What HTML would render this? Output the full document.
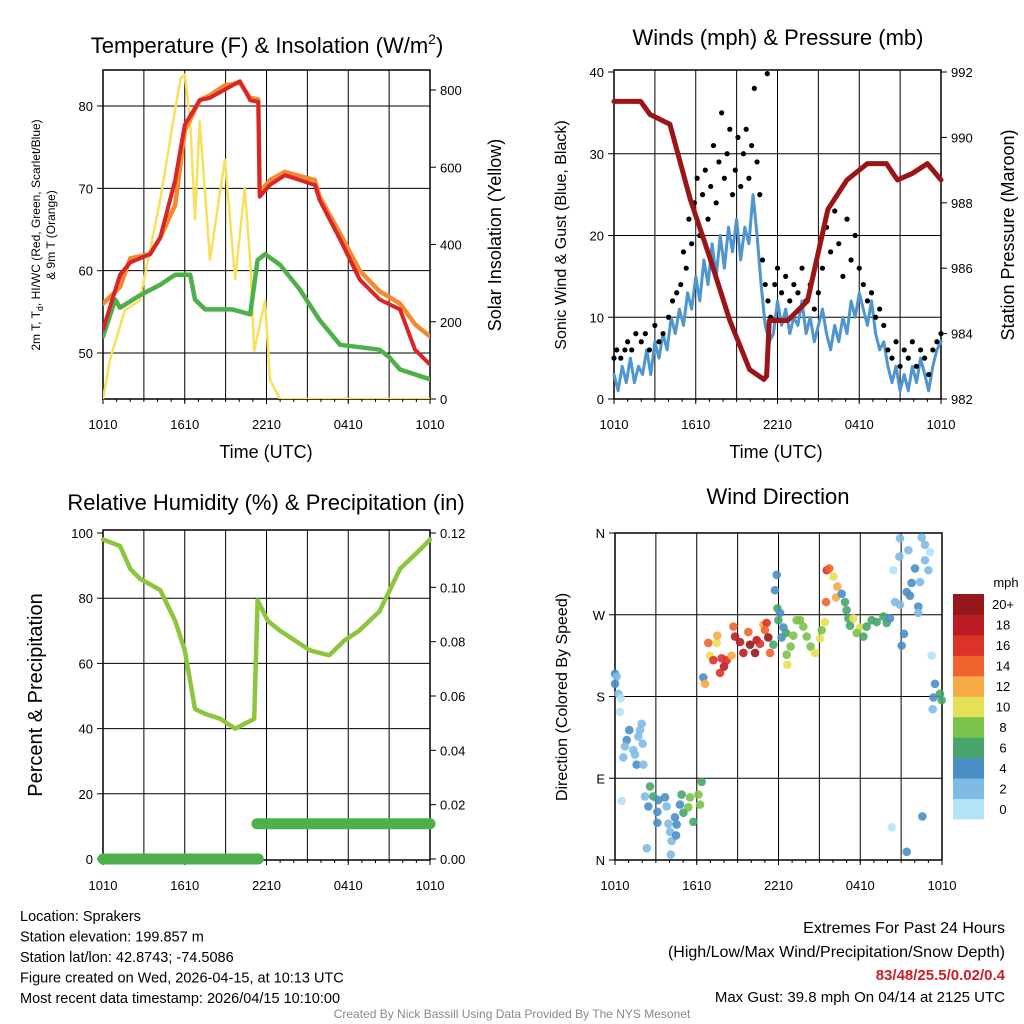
<!DOCTYPE html>
<html><head><meta charset="utf-8"><style>
html,body{margin:0;padding:0;background:#fff;}
svg{display:block;font-family:"Liberation Sans",sans-serif;}
</style></head><body>
<svg id="c" width="1024" height="1024" viewBox="0 0 1024 1024" xmlns="http://www.w3.org/2000/svg"></svg>
<script>
// ---------- DATA ----------
const xTickLabels = ["1010","1610","2210","0410","1010"];
// Panel 1: temperature (hours since 1010 UTC)
const tempRedT = [0,1.25,2,3.45,4.2,5.3,6,7.1,7.85,8.95,10.05,10.8,11.4,11.5,12.25,13.35,14.45,15.55,15.9,17.4,18.85,20.3,21.8,22.9,24];
const tempRedV = [52.8,59.5,61,62,64,71,77.7,80.7,81,82,83,80.7,80.5,69,70.4,71.6,71,70.4,68.6,63.8,58.9,56.5,55.3,50.4,48.6];
const tempOrgT = [0,1.25,2,3.45,4.2,5.3,6,7.1,7.85,8.95,10.05,10.8,11.4,11.5,12.25,13.35,14.45,15.55,15.9,17.4,18.85,20.3,21.8,22.9,24];
const tempOrgV = [56,58,61.5,62,64,68,77,80.7,81.3,82.5,82.8,81,80.8,69.5,71,72,71.5,71,69,64.5,60,57.5,56,53.5,52];
const dewT = [0,0.9,1.25,2.7,4.2,5.3,6.4,6.75,7.5,9.5,10.8,11.35,11.9,13,14.45,15.9,17.4,18.85,20.3,21,21.8,24];
const dewV = [52,56.5,55.5,57,58.3,59.5,59.5,56.5,55.3,55.3,54.7,61.3,62,60.7,57.7,54,51,50.7,50.4,49.5,48,46.8];
const solarT = [0,0.5,1.6,2.7,4.2,5.3,5.7,6,6.4,6.75,7.1,7.85,8.95,9.7,10.4,10.8,11.1,11.9,12.25,13,24];
const solarV = [0,100,230,255,515,750,830,840,720,465,720,360,620,310,545,360,125,255,50,0,0];
// Panel 2: winds & pressure
const sonicT = [0,0.3,0.6,0.9,1.2,1.5,1.8,2.1,2.4,2.7,3,3.3,3.6,3.9,4.2,4.5,4.8,5.1,5.4,5.7,6,6.3,6.6,6.9,7.2,7.5,7.8,8.1,8.4,8.7,9,9.3,9.6,9.9,10.2,10.5,10.8,11.1,11.4,11.7,12,12.3,12.6,12.9,13.2,13.5,13.8,14.1,14.4,14.7,15,15.3,15.6,15.9,16.2,16.5,16.8,17.1,17.4,17.7,18,18.3,18.6,18.9,19.2,19.5,19.8,20.1,20.4,20.7,21,21.3,21.6,21.9,22.2,22.5,22.8,23.1,23.4,23.7,24];
const sonicV = [3,1,4,2,5,2,4,3,6,3,7,5,8,6,10,8,11,9,13,11,15,12,17,14,19,15,20,16,21,18,22,17,21,19,25,20,14,9,7,8,12,9,11,8,10,9,12,8,10,7,9,11,8,6,9,7,10,8,12,10,13,11,9,12,8,6,7,4,2,4,1,3,1,4,2,5,3,1,4,6,7];
const gustT = [0,0.2,0.5,0.8,1,1.3,1.6,2,2.3,2.6,3,3.3,3.6,4,4.3,4.6,4.9,5.1,5.3,5.5,5.7,5.9,6.1,6.3,6.5,6.7,6.9,7.1,7.3,7.5,7.7,7.9,8.1,8.3,8.5,8.7,8.9,9.1,9.3,9.5,9.7,9.9,10.1,10.3,10.5,10.7,10.9,11.1,11.25,11.3,11.5,11.8,12,12.3,12.6,12.9,13.2,13.5,13.8,14.1,14.4,14.7,15,15.3,15.6,15.9,16.2,16.5,16.8,17.1,17.4,17.7,18,18.3,18.6,18.9,19.2,19.5,19.8,20.1,20.4,20.7,21,21.3,21.6,21.9,22.2,22.5,22.8,23.1,23.4,23.7,24];
const gustV = [5,6,5,6,7,6,8,7,8,6,9,7,8,10,12,13,14,18,16,22,19,24,27,20,25,28,22,26,31,24,29,35,27,30,33,25,28,32,26,30,33,27,31,38,29,25,17,14,39.8,12,10,14,16,13,15,12,14,13,16,12,14,11,13,16,21,18,23,19,15,22,17,20,16,14,12,13,10,11,9,6,5,7,4,6,5,7,4,6,5,3,6,7,8];
const presT = [0,1.95,2.65,4.1,5.6,7.05,8.5,9.95,11.0,11.2,11.4,12.75,14.2,15.7,17.1,18.6,20.0,20.8,21.9,23.0,24];
const presV = [991.1,991.1,990.7,990.4,988.1,986.3,984.4,982.9,982.6,982.7,984.4,984.4,985.0,987.8,988.7,989.2,989.2,988.7,988.9,989.2,988.7];
// Panel 3: RH & precip
const rhT = [0,1.25,2,2.7,4.2,5.3,6,6.75,7.5,8.6,9.7,10.4,11.1,11.35,12.1,13,14.1,15.2,16.6,17.7,18.8,20.3,21.8,23.3,24];
const rhV = [98,96,89,86,82.5,73,64,46,44.5,43,40,41.5,43,79.4,73,70,67,64,62.5,67,70,76,89,95,98];
const precipT1 = [0,11.4];
const precipV1 = [0,0];
const precipT2 = [11.3,24];
const precipV2 = [0.013,0.013];
// Panel 4: wind direction scatter
const dirT = [0,0.12,0,0.25,0.42,0.37,1.05,0.86,0.73,1.35,1.84,1.96,1.71,2.03,1.47,0.61,1.59,2.08,0.49,2.57,2.2,2.45,2.81,3.18,3.67,3.11,3.79,3.11,3.92,4.53,4.4,4.04,4.16,4.48,2.33,4.09,4.89,5.51,6.12,5.38,5.02,5.75,6.24,6.36,4.77,6.48,6.61,6.85,7.46,7.51,6.97,7.22,7.83,8.2,7.71,8.0,8.56,8.69,8.81,9.18,9.42,9.79,9.91,10.28,10.4,10.64,10.89,11.13,11.01,11.25,11.38,11.62,11.87,11.74,11.92,12.11,11.99,12.36,12.23,12.55,13.09,12.65,12.6,12.89,13.33,13.58,13.82,14.07,14.36,14.68,15.05,15.17,15.41,15.54,15.73,16.03,16.32,16.22,15.49,16.64,16.88,17.0,17.13,17.25,17.49,17.98,17.74,18.23,18.47,18.84,19.21,19.7,19.94,20.18,20.43,20.55,20.92,20.87,20.92,21.53,22.02,21.77,21.41,21.65,22.39,22.75,22.51,22.75,23.12,23.0,22.26,22.26,21.21,21.04,23.24,23.49,23.85,23.98,23.37,23.32,20.31,22.56,21.41];
const dirD = [205,202,194,183,178,163,143,132,125,121,143,150,136,128,116,113,105,105,65,81,70,59,70,66,69,53,59,41,40,39,47,31,21,27,13,6,72,69,72,58,52,42,61,86,61,201,194,239,239,247,225,220,222,220,206,213,225,257,246,240,228,251,237,228,242,238,259,261,253,245,228,237,314,297,277,272,264,256,245,250,247,215,226,235,264,264,257,246,235,228,244,253,262,319,321,312,301,289,284,293,284,275,266,258,266,256,250,246,257,264,262,268,261,266,319,284,281,334,354,341,321,305,295,291,306,330,355,347,339,319,279,272,249,236,225,194,183,176,179,166,36,48,9];
const dirS = [4,2,4,2,0,0,4,4,2,2,2,2,2,2,2,2,4,2,0,6,2,4,6,4,4,4,2,4,2,4,4,2,2,4,2,2,6,8,8,8,6,6,8,6,4,4,12,14,10,12,10,16,16,16,16,18,12,14,18,18,18,14,20,20,18,16,12,16,14,20,14,6,4,4,6,4,6,4,4,6,8,10,8,8,8,8,8,8,8,10,10,8,10,16,14,10,12,12,14,4,6,6,6,6,10,10,8,6,6,6,6,6,6,4,0,2,2,2,2,2,4,4,4,4,2,2,2,2,0,2,4,2,4,4,0,4,6,6,4,2,0,4,4];
const speedBins = ["0","2","4","6","8","10","12","14","16","18","20+"];
const speedColors = ["#b5e3f6","#7fbbe4","#4a8fc6","#47a56c","#7bc24a","#e5e057","#f6aa46","#ef632d","#dc3328","#bb1c24","#951719"];

// ---------- RENDER ----------
const svg = document.getElementById('c');
const NS = "http://www.w3.org/2000/svg";
function mk(tag, attrs, parent){const e=document.createElementNS(NS,tag);for(const k in attrs)e.setAttribute(k,attrs[k]);(parent||svg).appendChild(e);return e;}
function txt(x,y,s,size,anchor,parent,extra){const e=mk('text',Object.assign({x:x,y:y,'font-size':size,'text-anchor':anchor||'middle',fill:'#000'},extra||{}),parent);e.textContent=s;return e;}
function lin(d0,d1,r0,r1){return v=>r0+(v-d0)/(d1-d0)*(r1-r0);}

function frame(p,name){
  const g=mk('g',{});
  
  
  for(let h=3;h<24;h+=3){const x=p.xs(h);const l=mk('line',{x1:x,y1:p.y0,x2:x,y2:p.y1,stroke:'#000','stroke-width':1},g);}
  const r=mk('rect',{x:p.x0,y:p.y0,width:p.x1-p.x0,height:p.y1-p.y0,fill:'none',stroke:'#000','stroke-width':1.5},g);
  
  for(let i=0;i<5;i++){const x=p.xs(i*6);const t=txt(x,p.y1+30,xTickLabels[i],13,'middle',g);
    mk('line',{x1:x,y1:p.y1,x2:x,y2:p.y1+5,stroke:'#000','stroke-width':1},g);}
  for(let h=1;h<24;h++){const x=p.xs(h);mk('line',{x1:x,y1:p.y1,x2:x,y2:p.y1+3,stroke:'#000','stroke-width':1},g);}
  return g;
}
function hgrid(p,vals,ys){for(const v of vals){const y=ys(v);const l=mk('line',{x1:p.x0,y1:y,x2:p.x1,y2:y,stroke:'#000','stroke-width':1});}}
function ticksL(p,vals,ys,labels,name){for(let i=0;i<vals.length;i++){const y=ys(vals[i]);mk('line',{x1:p.x0-6,y1:y,x2:p.x0,y2:y,stroke:'#000'});const t=txt(p.x0-10,y+5,labels[i],13,'end');}}
function ticksR(p,vals,ys,labels,name){for(let i=0;i<vals.length;i++){const y=ys(vals[i]);mk('line',{x1:p.x1,y1:y,x2:p.x1+6,y2:y,stroke:'#000'});const t=txt(p.x1+10,y+5,labels[i],13,'start');}}
function path(T,V,xs,ys,color,w,name,cap,parent){let d='';for(let i=0;i<T.length;i++)d+=(i?'L':'M')+xs(T[i]).toFixed(1)+','+ys(V[i]).toFixed(1);const e=mk('path',{d:d,fill:'none',stroke:color,'stroke-width':w,'stroke-linejoin':'round','stroke-linecap':cap||'round'},parent);return e;}

// Panel 1
const P1={x0:103,x1:430,y0:70,y1:399};P1.xs=lin(0,24,P1.x0,P1.x1);
const y1L=lin(50,80,353,106), y1R=lin(0,800,399,90);
frame(P1,'temperature-panel');
hgrid(P1,[50,60,70,80],y1L);
ticksL(P1,[50,60,70,80],y1L,["50","60","70","80"],'temp-y-tick');
ticksR(P1,[0,200,400,600,800],y1R,["0","200","400","600","800"],'solar-y-tick');
let c1=mk('clipPath',{id:'c1'});mk('rect',{x:P1.x0,y:P1.y0,width:P1.x1-P1.x0,height:P1.y1-P1.y0},c1);
const g1=mk('g',{'clip-path':'url(#c1)'});
path(solarT,solarV,P1.xs,y1R,'#f7e05a',2.5,'solar-insolation-line','round',g1);
path(dewT,dewV,P1.xs,y1L,'#4db04a',4.5,'dewpoint-line','round',g1);
path(tempOrgT,tempOrgV,P1.xs,y1L,'#f28a30',4.5,'temp-9m-line','round',g1);
path(tempRedT,tempRedV,P1.xs,y1L,'#d92525',4,'temp-2m-line','round',g1);
let t=txt(267,53,'',22);
t.innerHTML='Temperature (F) &amp; Insolation (W/m<tspan font-size="14" dy="-9">2</tspan><tspan dy="9">)</tspan>';
t=txt(266,458,'Time (UTC)',18);
t=txt(0,0,'',12,'middle',null,{transform:'translate(40,235) rotate(-90)'});
t.innerHTML='2m T, T<tspan font-size="9" dy="3">d</tspan><tspan dy="-3">, HI/WC (Red, Green, Scarlet/Blue)</tspan>';
t=txt(0,0,'& 9m T (Orange)',12,'middle',null,{transform:'translate(55,235) rotate(-90)'});
t=txt(0,0,'Solar Insolation (Yellow)',18,'middle',null,{transform:'translate(501,235) rotate(-90)'});

// Panel 2
const P2={x0:614,x1:941,y0:70,y1:399};P2.xs=lin(0,24,P2.x0,P2.x1);
const y2L=lin(0,40,399,72), y2R=lin(982,992,399,72);
frame(P2,'winds-panel');
hgrid(P2,[10,20,30],y2L);
ticksL(P2,[0,10,20,30,40],y2L,["0","10","20","30","40"],'wind-y-tick');
ticksR(P2,[982,984,986,988,990,992],y2R,["982","984","986","988","990","992"],'pressure-y-tick');
path(sonicT,sonicV,P2.xs,y2L,'#4f95d0',3,'sonic-wind-line');
for(let i=0;i<gustT.length;i++){const c=mk('circle',{cx:P2.xs(gustT[i]),cy:y2L(gustV[i]),r:2.6,fill:'#000'});}
path(presT,presV,P2.xs,y2R,'#9b1516',5,'pressure-line');
t=txt(778,45,'Winds (mph) & Pressure (mb)',22);
t=txt(776,458,'Time (UTC)',18);
t=txt(0,0,'Sonic Wind & Gust (Blue, Black)',16,'middle',null,{transform:'translate(566,235) rotate(-90)'});
t=txt(0,0,'Station Pressure (Maroon)',18,'middle',null,{transform:'translate(1014,235) rotate(-90)'});

// Panel 3
const P3={x0:103,x1:430,y0:530,y1:860};P3.xs=lin(0,24,P3.x0,P3.x1);
const y3L=lin(0,100,859,533), y3R=lin(0,0.12,859,533);
frame(P3,'humidity-panel');
hgrid(P3,[20,40,60,80],y3L);
ticksL(P3,[0,20,40,60,80,100],y3L,["0","20","40","60","80","100"],'rh-y-tick');
ticksR(P3,[0,0.02,0.04,0.06,0.08,0.10,0.12],y3R,["0.00","0.02","0.04","0.06","0.08","0.10","0.12"],'precip-y-tick');
path(rhT,rhV,P3.xs,y3L,'#8cc63e',4.5,'rh-line');
path(precipT1,precipV1,P3.xs,y3R,'#4db04a',11,'precip-line');
path(precipT2,precipV2,P3.xs,y3R,'#4db04a',11,'precip-line-2');
t=txt(266,510,'Relative Humidity (%) & Precipitation (in)',22);
t=txt(0,0,'Percent & Precipitation',20,'middle',null,{transform:'translate(42,695) rotate(-90)'});

// Panel 4
const P4={x0:615,x1:942,y0:533,y1:860};P4.xs=lin(0,24,P4.x0,P4.x1);
const y4=lin(0,360,860,533);
frame(P4,'wind-direction-panel');
hgrid(P4,[90,180,270],y4);
ticksL(P4,[0,90,180,270,360],y4,["N","E","S","W","N"],'direction-y-tick');
for(let i=0;i<dirT.length;i++){const ci=Math.min(10,Math.floor(dirS[i]/2));const c=mk('circle',{cx:P4.xs(dirT[i]),cy:y4(dirD[i]),r:4.3,fill:speedColors[ci],'fill-opacity':0.9});}
t=txt(778,504,'Wind Direction',22);
t=txt(0,0,'Direction (Colored By Speed)',16,'middle',null,{transform:'translate(567,697) rotate(-90)'});
const cb=mk('g',{});
const bh=(819-594)/11;
for(let i=0;i<11;i++){const y=819-(i+1)*bh;const r=mk('rect',{x:953,y:y,width:31,height:bh+0.5,fill:speedColors[i]},cb);
  const l=txt(1003,y+bh/2+5,speedBins[i],13,'middle',cb);}
t=txt(1006,587,'mph',13,'middle');

// Footer text
const info=["Location: Sprakers","Station elevation: 199.857 m","Station lat/lon: 42.8743; -74.5086","Figure created on Wed, 2026-04-15, at 10:13 UTC","Most recent data timestamp: 2026/04/15 10:10:00"];
info.forEach((s,i)=>{const e=txt(20,921+i*20.5,s,14.5,'start');});
t=txt(1005,933,'Extremes For Past 24 Hours',16,'end');
t=txt(1005,957,'(High/Low/Max Wind/Precipitation/Snow Depth)',16,'end');
t=txt(1005,980,'83/48/25.5/0.02/0.4',15,'end',null,{fill:'#c8202a','font-weight':'bold'});
t=txt(1005,1002,'Max Gust: 39.8 mph On 04/14 at 2125 UTC',15,'end');
t=txt(512,1018,'Created By Nick Bassill Using Data Provided By The NYS Mesonet',12,'middle',null,{fill:'#888'});
</script>
</body></html>
